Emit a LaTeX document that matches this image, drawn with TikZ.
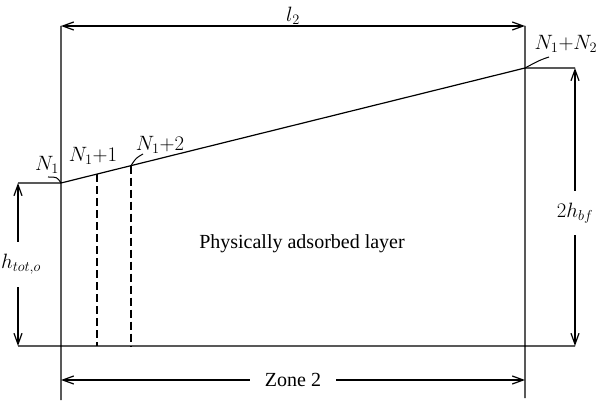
\documentclass[tikz,border=0pt]{standalone}
\usepackage{fontspec}
\setmainfont{Liberation Serif}
\usetikzlibrary{arrows.meta,calc}

\begin{document}
\begin{tikzpicture}[
    x = 1pt, y = -1pt,
    line width = 1.2pt,
    every node/.style = {font = \fontsize{20}{24}\selectfont},
    dim/.style = {{Straight Barb[length=11pt,width=8pt]}-{Straight Barb[length=11pt,width=8pt]}},
    lead/.style = {line width = 1pt},
    gap/.style = {fill = white, inner sep = 2pt}]

\useasboundingbox (0,0) rectangle (600,403);

\coordinate (tl) at (61,26);
\coordinate (tr) at (525,26);
\coordinate (bl) at (61,400);
\coordinate (br) at (525,398);
\coordinate (n1) at (61,183);
\coordinate (n2) at (525,68);
\coordinate (hl) at (18,183);
\coordinate (hb) at (18,346);
\coordinate (vt) at (575,68);
\coordinate (vb) at (575,346);
\coordinate (zl) at (61,380);
\coordinate (zr) at (525,380);
\coordinate (d1) at ($(n1)!36/464!(n2)$);
\coordinate (d2) at ($(n1)!70/464!(n2)$);

% walls and layer
\draw (tl) -- (bl) (tr) -- (br)
      (hl) -- (n1) -- (n2) -- (vt)
      (hb) -- (vb);
\draw[dash pattern = on 8pt off 4pt] (d1) -- (d1 |- hb) (d2) -- (d2 |- hb);

% dimensions
\draw[dim] (tl) -- node[above, inner sep = 1pt] (l2) {$l_2$} (tr);
\draw[dim] (hl) -- node[gap, inner xsep = 0pt, inner ysep = 12pt, xshift = 3pt] (htot) {$h_{tot,o}$} (hb);
\draw[dim] (vt) -- node[gap, inner ysep = 12pt, yshift = -6pt] (hbf) {$2h_{bf}$} (vb);
\draw[dim] (zl) -- node[gap, inner xsep = 15pt] (zone) {Zone 2} (zr);

% labels
\path (47,165) node (lN1) {$N_1$}
      (93,156) node (lN11) {$N_1{+}1$}
      (160,145) node (lN12) {$N_1{+}2$}
      (566,44) node (lN1N2) {$N_1{+}N_2$}
      (302,244) node (layer) {Physically adsorbed layer};
\coordinate (e1) at (48,177);
\coordinate (e2) at (143,154);
\coordinate (e3) at (549,57);
\draw[lead] (e1) .. controls (57,177) .. (n1)
            (d2) .. controls (136,158) .. (e2)
            (n2) .. controls (540,60) .. (e3);
\end{tikzpicture}
\end{document}
